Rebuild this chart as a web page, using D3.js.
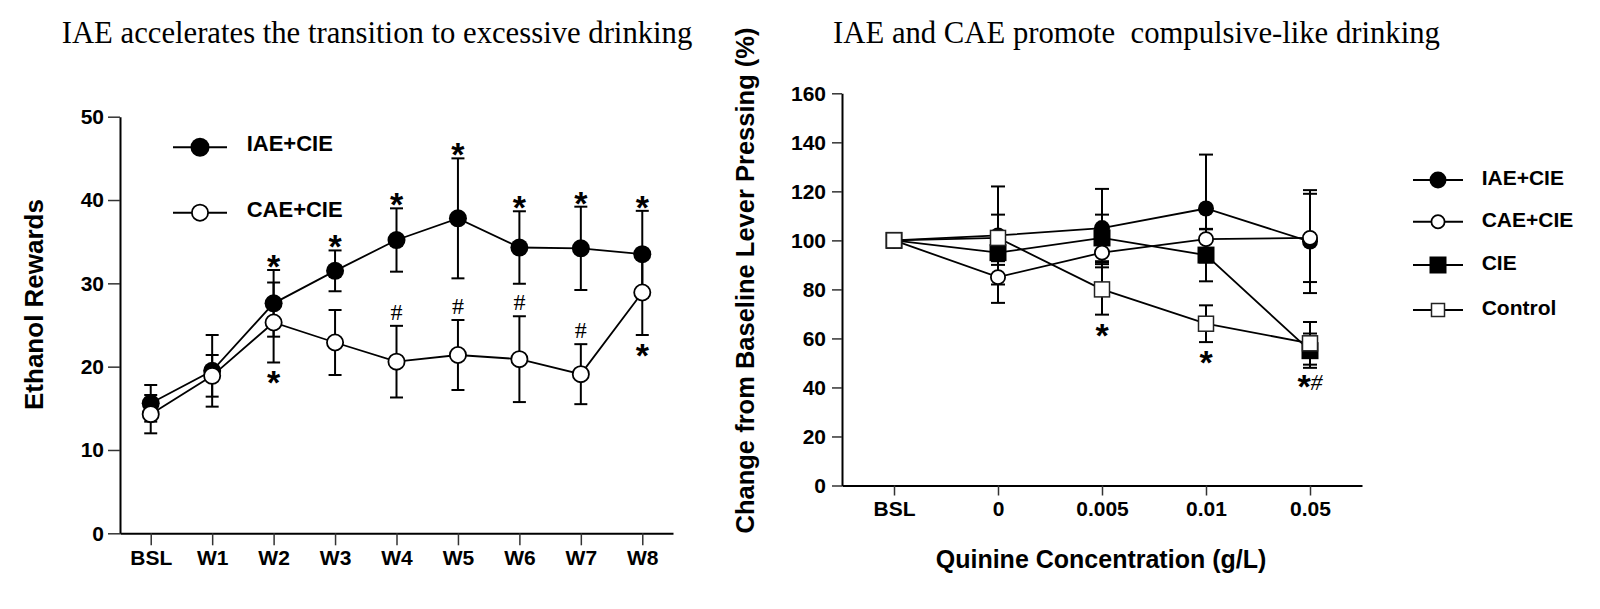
<!DOCTYPE html>
<html><head><meta charset="utf-8">
<script src="https://cdn.jsdelivr.net/npm/d3@7"></script>
<style>body{margin:0;background:#fff} svg{display:block}</style>
</head><body>
<svg id="c" width="1600" height="609"></svg>
<script>
// ---------- DATA ----------
const leftTitle = "IAE accelerates the transition to excessive drinking";
const leftYLabel = "Ethanol Rewards";
const leftCategories = ["BSL","W1","W2","W3","W4","W5","W6","W7","W8"];
const leftTicks = [0,10,20,30,40,50];
const iaeCieRewards    = [15.6, 19.5, 27.6, 31.5, 35.2, 37.8, 34.3, 34.2, 33.5];
const iaeCieRewardsErr = [2.2, 4.3, 4.0, 2.45, 3.8, 7.2, 4.35, 5.0, 5.2];
const caeCieRewards    = [14.3, 18.9, 25.3, 22.9, 20.6, 21.4, 20.9, 19.1, 28.9];
const caeCieRewardsErr = [2.3, 2.5, 4.8, 3.9, 4.3, 4.2, 5.15, 3.6, 5.1];
const leftAnnotCats   = ["W2","W3","W4","W5","W6","W7","W8","W2","W8","W4","W5","W6","W7"];
const leftAnnotSeries = [0,0,0,0,0,0,0,1,1,1,1,1,1];
const leftAnnotSide   = ["above","above","above","above","above","above","above","below","below","above","above","above","above"];
const leftAnnotText   = ["*","*","*","*","*","*","*","*","*","#","#","#","#"];

const rightTitle = "IAE and CAE promote  compulsive-like drinking";
const rightYLabel = "Change from Baseline Lever Pressing (%)";
const rightXLabel = "Quinine Concentration (g/L)";
const rightCategories = ["BSL","0","0.005","0.01","0.05"];
const rightTicks = [0,20,40,60,80,100,120,140,160];
const iaeCiePct     = [100, 102, 105, 113, 99.5];
const iaeCiePctErr  = [0, 20, 16, 22, 21];
const caeCiePct     = [100, 85, 95, 100.5, 101];
const caeCiePctErr  = [0, 10.5, 4, 4, 18];
const ciePct        = [100, 95, 101, 94, 55];
const ciePctErr     = [0, 5, 9.5, 10.7, 7];
const controlPct    = [100, 101, 80, 66, 58];
const controlPctErr = [0, 9.5, 10.3, 7.5, 8.7];
const rightAnnotCats   = ["0.005","0.01","0.05"];
const rightAnnotSeries = [3,3,2];
const rightAnnotText   = ["*","*","*#"];

// ---------- DRAW ----------
const SANS = "'Liberation Sans', Arial, Helvetica, sans-serif";
const SERIF = "'Liberation Serif', 'Times New Roman', serif";
const svg = d3.select("#c");

function styleAxis(g){
  g.attr("font-family", SANS).attr("font-size", 21).attr("font-weight", "bold");
  g.select(".domain").attr("stroke", "#000").attr("stroke-width", 2);
  g.selectAll(".tick line").attr("stroke", "#333").attr("stroke-width", 1.5);
  g.selectAll(".tick text").attr("fill", "#000");
}

function drawMarker(g, shape, filled, x, y, s){
  if (shape === "circle") {
    g.append("circle").attr("cx", x).attr("cy", y)
      .attr("r", filled ? s : s - 0.9)
      .attr("fill", filled ? "#000" : "#fff")
      .attr("stroke", filled ? "none" : "#000").attr("stroke-width", 1.8);
  } else {
    const h = filled ? s : s - 1;
    g.append("rect").attr("x", x - h/2).attr("y", y - h/2).attr("width", h).attr("height", h)
      .attr("fill", filled ? "#000" : "#fff")
      .attr("stroke", filled ? "none" : "#222").attr("stroke-width", 1.5);
  }
}

function drawSeries(g, x, y, cats, series, capW){
  const line = d3.line().x((d,i) => x(cats[i])).y(d => y(d));
  series.forEach(s => {
    g.append("path").attr("d", line(s.mean)).attr("fill", "none")
      .attr("stroke", "#000").attr("stroke-width", 1.8);
  });
  series.forEach(s => {
    s.mean.forEach((m, i) => {
      const e = s.err[i];
      if (!e) return;
      const cx = x(cats[i]), y1 = y(m + e), y2 = y(m - e);
      g.append("line").attr("x1", cx).attr("x2", cx).attr("y1", y1).attr("y2", y2)
        .attr("stroke", "#000").attr("stroke-width", 2);
      [y1, y2].forEach(yy => g.append("line").attr("x1", cx - capW/2).attr("x2", cx + capW/2)
        .attr("y1", yy).attr("y2", yy).attr("stroke", "#000").attr("stroke-width", 2));
    });
  });
  series.forEach(s => {
    s.mean.forEach((m, i) => drawMarker(g, s.shape, s.filled, x(cats[i]), y(m), s.size));
  });
}

function drawAnnot(g, x, y, cats, series, annCats, annSer, annSide, annText){
  annCats.forEach((c, k) => {
    const s = series[annSer[k]];
    const i = cats.indexOf(c);
    const m = s.mean[i], e = s.err[i];
    const cx = x(c);
    const side = annSide ? annSide[k] : "below";
    const t = annText[k];
    if (t === "#") {
      const cy = y(m + e) - 14;
      g.append("text").attr("x", cx).attr("y", cy + 8).attr("text-anchor", "middle")
        .attr("font-family", SERIF).attr("font-size", 24).text("#");
    } else if (t === "*") {
      const cy = side === "above" ? y(m + e) - 12 : y(m - e) + 12;
      g.append("text").attr("x", cx).attr("y", cy + 20).attr("text-anchor", "middle")
        .attr("font-family", SANS).attr("font-weight", "bold").attr("font-size", 34).text("*");
    } else {
      const cy = y(m - e) + 10;
      const tx = g.append("text").attr("x", cx).attr("y", cy + 20).attr("text-anchor", "middle");
      tx.append("tspan").attr("font-family", SANS).attr("font-weight", "bold").attr("font-size", 34).text("*");
      tx.append("tspan").attr("font-family", SERIF).attr("font-style", "italic").attr("font-size", 24).attr("dy", -8).text("#");
    }
  });
}

// ---- Left panel ----
svg.append("text").attr("x", 377).attr("y", 43).attr("text-anchor", "middle")
  .attr("font-family", SERIF).attr("font-size", 30.7).text(leftTitle);

const xL = d3.scalePoint().domain(leftCategories).range([120, 673]).padding(0.5);
const yL = d3.scaleLinear().domain([0, 50]).range([533.3, 116.7]);

svg.append("g").attr("transform", "translate(120,0)")
  .call(d3.axisLeft(yL).tickValues(leftTicks).tickSize(12).tickSizeOuter(0).tickPadding(4)).call(styleAxis);
svg.append("g").attr("transform", "translate(0,533.3)")
  .call(d3.axisBottom(xL).tickSize(12).tickSizeOuter(0).tickPadding(5)).call(styleAxis);

svg.append("text").attr("transform", "translate(43.3,304.5) rotate(-90)").attr("text-anchor", "middle")
  .attr("font-family", SANS).attr("font-weight", "bold").attr("font-size", 26).text(leftYLabel);

const leftSeries = [
  {name: "IAE+CIE", mean: iaeCieRewards, err: iaeCieRewardsErr, shape: "circle", filled: true, size: 9},
  {name: "CAE+CIE", mean: caeCieRewards, err: caeCieRewardsErr, shape: "circle", filled: false, size: 9}
];
const gL = svg.append("g");
drawSeries(gL, xL, yL, leftCategories, leftSeries, 13);
drawAnnot(gL, xL, yL, leftCategories, leftSeries, leftAnnotCats, leftAnnotSeries, leftAnnotSide, leftAnnotText);

// left legend
const legL = svg.append("g");
const legLRows = [147.3, 212.7];
leftSeries.forEach((s, k) => {
  const ly = legLRows[k];
  legL.append("line").attr("x1", 173).attr("x2", 227).attr("y1", ly).attr("y2", ly)
    .attr("stroke", "#000").attr("stroke-width", 2);
  drawMarker(legL, s.shape, s.filled, 200, ly, s.filled ? 9.5 : 9);
  legL.append("text").attr("x", 246.7).attr("y", ly + 4).attr("font-family", SANS)
    .attr("font-weight", "bold").attr("font-size", 22).text(s.name);
});

// ---- Right panel ----
svg.append("text").attr("x", 1136.5).attr("y", 43).attr("text-anchor", "middle")
  .attr("font-family", SERIF).attr("font-size", 30.7).style("white-space", "pre").text(rightTitle);

const xR = d3.scalePoint().domain(rightCategories).range([842, 1362]).padding(0.5);
const yR = d3.scaleLinear().domain([0, 160]).range([485.5, 93.3]);

svg.append("g").attr("transform", "translate(842,0)")
  .call(d3.axisLeft(yR).tickValues(rightTicks).tickSize(10).tickSizeOuter(0).tickPadding(6)).call(styleAxis);
svg.append("g").attr("transform", "translate(0,485.5)")
  .call(d3.axisBottom(xR).tickSize(10).tickSizeOuter(0).tickPadding(6)).call(styleAxis);

svg.append("text").attr("transform", "translate(754,280.5) rotate(-90)").attr("text-anchor", "middle")
  .attr("font-family", SANS).attr("font-weight", "bold").attr("font-size", 25.5).text(rightYLabel);
svg.append("text").attr("x", 1101).attr("y", 568).attr("text-anchor", "middle")
  .attr("font-family", SANS).attr("font-weight", "bold").attr("font-size", 25).text(rightXLabel);

const rightSeries = [
  {name: "IAE+CIE", mean: iaeCiePct, err: iaeCiePctErr, shape: "circle", filled: true, size: 8},
  {name: "CAE+CIE", mean: caeCiePct, err: caeCiePctErr, shape: "circle", filled: false, size: 8},
  {name: "CIE", mean: ciePct, err: ciePctErr, shape: "square", filled: true, size: 17},
  {name: "Control", mean: controlPct, err: controlPctErr, shape: "square", filled: false, size: 16}
];
// draw order: IAE, CIE, CAE, Control
const drawOrder = [0, 2, 1, 3].map(i => rightSeries[i]);
const gR = svg.append("g");
drawSeries(gR, xR, yR, rightCategories, drawOrder, 14);
drawAnnot(gR, xR, yR, rightCategories, rightSeries, rightAnnotCats, rightAnnotSeries, null, rightAnnotText);

// right legend
const legR = svg.append("g");
const legRRows = [180, 221.7, 265, 310];
const legRSize = [8.5, 7.5, 17, 14];
rightSeries.forEach((s, k) => {
  const ly = legRRows[k];
  legR.append("line").attr("x1", 1413).attr("x2", 1463).attr("y1", ly).attr("y2", ly)
    .attr("stroke", "#000").attr("stroke-width", 2);
  drawMarker(legR, s.shape, s.filled, 1438, ly, legRSize[k]);
  legR.append("text").attr("x", 1481.7).attr("y", ly + 5).attr("font-family", SANS)
    .attr("font-weight", "bold").attr("font-size", 21).text(s.name);
});
</script>
</body></html>
